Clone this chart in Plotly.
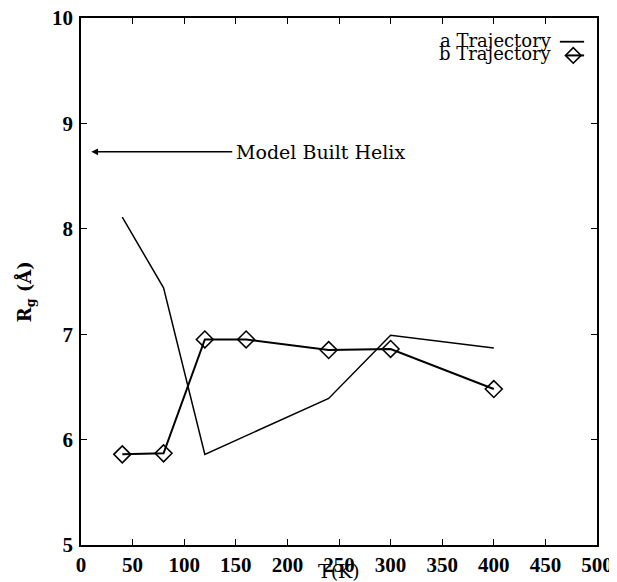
import plotly.graph_objects as go

# ---- data ----
temps_a = [40, 80, 120, 240, 300, 400]
rg_a = [8.11, 7.44, 5.86, 6.39, 6.99, 6.87]
temps_b = [40, 80, 120, 160, 240, 300, 400]
rg_b = [5.86, 5.87, 6.95, 6.95, 6.85, 6.86, 6.48]
helix_rg = 8.73
helix_label = "Model Built Helix"
x_ticks = [0, 50, 100, 150, 200, 250, 300, 350, 400, 450, 500]
y_ticks = [5, 6, 7, 8, 9, 10]
series_names = ["a Trajectory", "b Trajectory"]

TXT = "DejaVu Serif"
TICK = "Liberation Serif"

fig = go.Figure()
fig.add_trace(go.Scatter(x=temps_a, y=rg_a, mode="lines",
                         line=dict(color="black", width=1.5),
                         name=series_names[0], showlegend=False))
fig.add_trace(go.Scatter(x=temps_b, y=rg_b, mode="lines+markers",
                         line=dict(color="black", width=2),
                         marker=dict(symbol="diamond-open", size=13,
                                     color="black", line=dict(width=1.6)),
                         name=series_names[1], showlegend=False))

# legend overlay axes (paper-like)
fig.add_trace(go.Scatter(x=[0.940, 0.975], y=[0.929, 0.929], xaxis="x2", yaxis="y2",
                         mode="lines", line=dict(color="black", width=2),
                         showlegend=False, hoverinfo="skip"))
fig.add_trace(go.Scatter(x=[0.954], y=[0.929], xaxis="x2", yaxis="y2",
                         mode="markers",
                         marker=dict(symbol="diamond-open", size=12, color="black",
                                     line=dict(width=1.6)),
                         showlegend=False, hoverinfo="skip"))
fig.add_trace(go.Scatter(x=[0.928, 0.975], y=[0.955, 0.955], xaxis="x2", yaxis="y2",
                         mode="lines", line=dict(color="black", width=1.8),
                         showlegend=False, hoverinfo="skip"))

fig.add_annotation(x=0.917, y=0.957, xref="paper", yref="paper", text=series_names[0],
                   showarrow=False, xanchor="right", yanchor="middle",
                   font=dict(family=TXT, size=18, color="black"))
fig.add_annotation(x=0.917, y=0.933, xref="paper", yref="paper", text=series_names[1],
                   showarrow=False, xanchor="right", yanchor="middle",
                   font=dict(family=TXT, size=18, color="black"))

# helix arrow
fig.add_annotation(x=10, y=helix_rg, ax=148, ay=helix_rg, xref="x", yref="y",
                   axref="x", ayref="y", text="", showarrow=True,
                   arrowhead=2, arrowsize=0.9, arrowwidth=1.5, arrowcolor="black")
fig.add_annotation(x=148, y=helix_rg, xref="x", yref="y", text=helix_label,
                   showarrow=False, xanchor="left", yanchor="middle",
                   font=dict(family=TXT, size=19, color="black"))

# x-axis title overlapping tick labels
fig.add_annotation(x=0.5, y=-0.025, xref="paper", yref="paper", text="T(K)",
                   showarrow=False, xanchor="center", yanchor="top",
                   font=dict(family=TXT, size=19, color="black"))
# y-axis title
fig.add_annotation(x=-0.108, y=0.48, xref="paper", yref="paper",
                   text="<b>R<sub>g</sub> (Å)</b>", textangle=-90,
                   showarrow=False, xanchor="center", yanchor="middle",
                   font=dict(family=TXT, size=18, color="black"))

fig.update_layout(
    width=617, height=582,
    margin=dict(l=73, r=28, t=10, b=45),
    paper_bgcolor="white", plot_bgcolor="white",
    xaxis=dict(range=[0, 500], tickvals=x_ticks, ticks="inside", ticklen=6,
               tickwidth=1.2, tickcolor="black", mirror="ticks", showline=True,
               linecolor="black", linewidth=1.6, showgrid=False, zeroline=False,
               automargin=False, ticklabelstandoff=0, ticklabeloverflow="allow",
               tickfont=dict(family=TICK, size=21, color="black", weight="bold")),
    yaxis=dict(range=[5, 10], tickvals=y_ticks, ticks="inside", ticklen=6,
               tickwidth=1.2, tickcolor="black", mirror="ticks", showline=True,
               linecolor="black", linewidth=1.6, showgrid=False, zeroline=False,
               automargin=False, ticklabelstandoff=2, ticklabeloverflow="allow",
               tickfont=dict(family=TICK, size=21, color="black", weight="bold")),
    xaxis2=dict(range=[0, 1], overlaying="x", visible=False),
    yaxis2=dict(range=[0, 1], overlaying="y", visible=False),
)

fig.write_html("out.html")
